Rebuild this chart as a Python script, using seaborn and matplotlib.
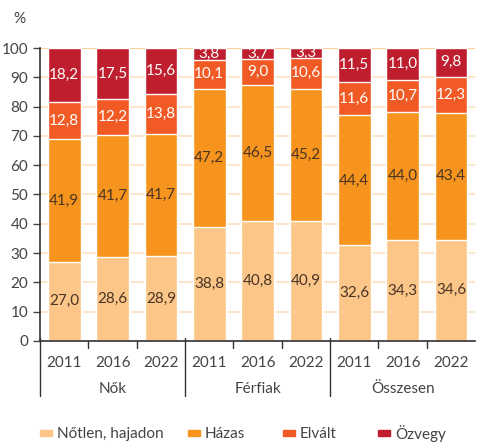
import numpy as np
import pandas as pd
import matplotlib.pyplot as plt
import seaborn as sns

# ---------------- data ----------------
groups = ["Nők", "Férfiak", "Összesen"]
years = ["2011", "2016", "2022"]
series_names = ["Nőtlen, hajadon", "Házas", "Elvált", "Özvegy"]
notlen = [27.0, 28.6, 28.9, 38.8, 40.8, 40.9, 32.6, 34.3, 34.6]
hazas = [41.9, 41.7, 41.7, 47.2, 46.5, 45.2, 44.4, 44.0, 43.4]
elvalt = [12.8, 12.2, 13.8, 10.1, 9.0, 10.6, 11.6, 10.7, 12.3]
ozvegy = [18.2, 17.5, 15.6, 3.8, 3.7, 3.3, 11.5, 11.0, 9.8]

colors = ["#fbc688", "#f7941d", "#f15a24", "#be1e2d"]
text_colors = ["#4a3424", "#4a3424", "white", "white"]

sns.set_style("white")
plt.rcParams["font.family"] = ["Lato", "DejaVu Sans"]

labels = [f"{g}-{y}" for g in groups for y in years]
vals = np.array([notlen, hazas, elvalt, ozvegy])
cum = vals.cumsum(axis=0)

W, H = 478, 442
fig = plt.figure(figsize=(W / 100, H / 100), dpi=100)
ax = fig.add_axes([0.084, 0.229, 0.91, 0.662])

# grid
for v in range(10, 101, 10):
    ax.axhline(v, color="#fde0c0" if v < 100 else "#fbc688", lw=1.2, zorder=0)

# stacked bars: draw cumulative totals from the top layer down
for i in range(3, -1, -1):
    df = pd.DataFrame({"cat": labels, "val": cum[i]})
    sns.barplot(data=df, x="cat", y="val", color=colors[i], width=0.68,
                saturation=1, ax=ax, zorder=2)

# value labels
for i in range(4):
    mids = cum[i] - vals[i] / 2
    for j, (m, v) in enumerate(zip(mids, vals[i])):
        ax.text(j, m, f"{v:.1f}".replace(".", ","), ha="center", va="center",
                color=text_colors[i], fontsize=11, zorder=3)

ax.set_ylim(0, 100)
ax.set_xlim(-0.5, 8.5)
ax.set_yticks(range(0, 101, 10))
ax.tick_params(axis="y", labelsize=11, colors="#444444", length=5, width=1,
               direction="out", left=True)
ax.set_xticks([])
ax.set_xlabel("")
ax.set_ylabel("")
for s in ["top", "right"]:
    ax.spines[s].set_visible(False)
for s in ["left", "bottom"]:
    ax.spines[s].set_color("#333333")
    ax.spines[s].set_linewidth(1.2)

# two-level x axis labels
tr = ax.get_xaxis_transform()
for j in range(9):
    ax.text(j, -0.075, years[j % 3], transform=tr, ha="center", va="center",
            fontsize=11, color="#444444")
for g, name in enumerate(groups):
    ax.text(g * 3 + 1, -0.165, name, transform=tr, ha="center", va="center",
            fontsize=11, color="#444444")
for b in [0.5, 1.5, 3.5, 4.5, 6.5, 7.5]:
    ax.plot([b, b], [0, -0.025], transform=tr, color="#333333", lw=1, clip_on=False)
for b in [-0.5, 2.5, 5.5]:
    ax.plot([b, b], [0.01, -0.19], transform=tr, color="#333333", lw=1, clip_on=False)

fig.text(0.027, 0.957, "%", fontsize=11, color="#444444", va="center")

# legend, laid out by hand in pixel positions
leg_x = [40, 188, 283, 378]
for x, c, name in zip(leg_x, colors, series_names):
    fig.patches.append(plt.Rectangle((x / W, 1 - 436 / H), 12 / W, 6 / H,
                                     color=c, transform=fig.transFigure))
    fig.text((x + 17) / W, 1 - 434 / H, name, fontsize=11, color="#444444",
             va="center", ha="left")

fig.savefig("out.png", dpi=100)
